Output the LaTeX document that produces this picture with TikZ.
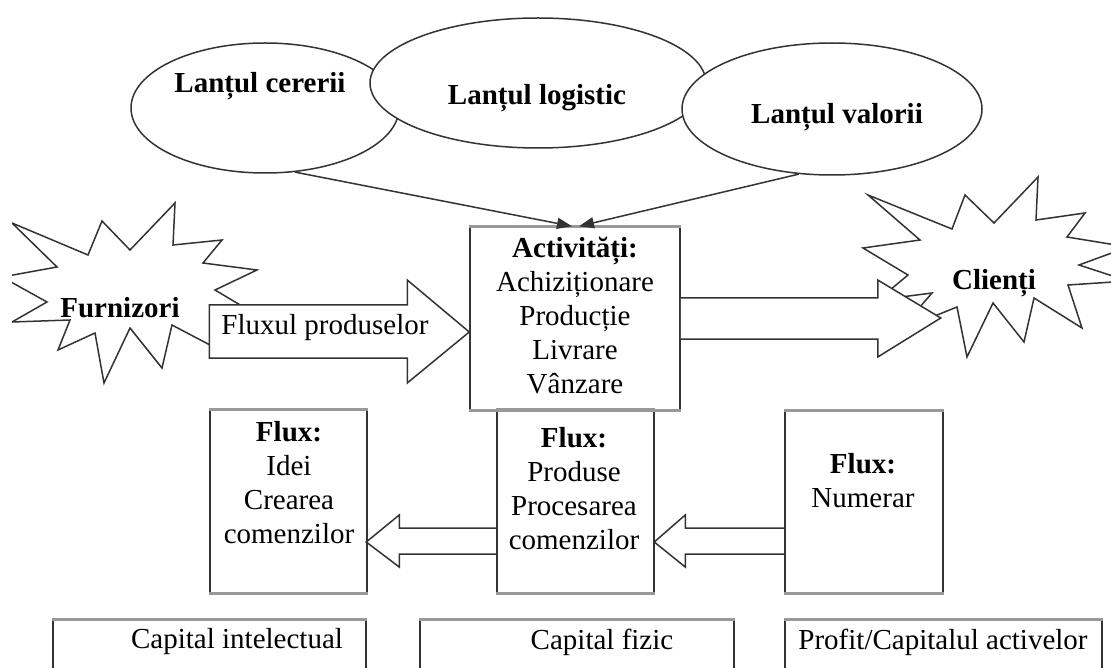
\documentclass[tikz,border=0pt]{standalone}
\usepackage{fontspec}
\setmainfont{Liberation Serif}
\usetikzlibrary{calc,arrows.meta,shapes.geometric}
\begin{document}
\begin{tikzpicture}[x=1pt,y=-1pt,
  ln/.style={draw=black!80,line width=1.5pt},
  ell/.style={ellipse,ln,fill=white,inner sep=0pt},
  box/.style={rectangle,ln,inner sep=0pt},
  hedge/.style={draw=black!40,line width=3pt},
  txt/.style={inner sep=0pt,font=\fontsize{29}{34}\selectfont,align=center},
  btxt/.style={inner sep=0pt,font=\fontsize{29}{34}\selectfont\bfseries,align=center},
  blk/.style={ln,line join=miter},
  tipline/.style={ln,-{Triangle[length=15pt,width=11pt]}}]
\clip (0,0) rectangle (1111,668);
\fill[white] (0,0) rectangle (1111,668);

% ellipses
\node[ell,minimum width=268pt,minimum height=130pt] (cerere) at (265,108) {};
\node[ell,minimum width=336pt,minimum height=130pt] (logistic) at (538,83) {};
\node[ell,minimum width=300pt,minimum height=132pt] (valoare) at (832,109) {};
\node[btxt] (t-cerere) at (260,86) {Lanțul cererii};
\node[btxt] (t-logistic) at (537,98) {Lanțul logistic};
\node[btxt] (t-valoare) at (837,117) {Lanțul valorii};

% boxes
\node[box,minimum width=210pt,minimum height=183pt] (act) at (575,318.5) {};
\node[box,minimum width=157pt,minimum height=183pt] (idei) at (288.5,501.5) {};
\node[box,minimum width=157pt,minimum height=183pt] (proc) at (575.5,501.5) {};
\node[box,minimum width=158pt,minimum height=182pt] (num) at (864,502) {};
\node[box,minimum width=313pt,minimum height=80pt] (cap1) at (209.5,660) {};
\node[box,minimum width=314pt,minimum height=80pt] (cap2) at (577,660) {};
\node[box,minimum width=317pt,minimum height=80pt] (cap3) at (943.5,660) {};
\foreach \b in {act,idei,proc,num}{
  \draw[hedge] (\b.north west) -- (\b.north east);
  \draw[hedge] (\b.south west) -- (\b.south east);
}
\foreach \b in {cap1,cap2,cap3}{
  \draw[hedge] (\b.north west) -- (\b.north east);
}

\node[txt] (t-act) at (575,316) {\textbf{Activități:}\\Achiziționare\\Producție\\Livrare\\Vânzare};
\node[txt] (t-idei) at (289,483) {\textbf{Flux:}\\Idei\\Crearea\\comenzilor};
\node[txt] (t-proc) at (574,489) {\textbf{Flux:}\\Produse\\Procesarea\\comenzilor};
\node[txt] (t-num) at (863,481) {\textbf{Flux:}\\Numerar};
\node[txt] (t-cap1) at (237,642) {Capital intelectual};
\node[txt] (t-cap2) at (602,642) {Capital fizic};
\node[txt] (t-cap3) at (943,642) {Profit/Capitalul activelor};

% connectors from ellipses
\draw[tipline] (cerere.-65) -- ($(act.north)+(-3,0)$);
\draw[tipline] (valoare.-117) -- ($(act.north)+(4,0)$);

% stars
\begin{scope}
\clip (12,0) rectangle (1111,668);
\draw[blk] (12,223) -- (88,255) -- (102,221) -- (130,250) -- (175,203) -- (173,245)
  -- (222,240) -- (203,263) -- (257,270) -- (215,290) -- (252,312) -- (252,338)
  -- (210,345) -- (172,325) -- (162,368) -- (130,328) -- (104,383) -- (95,333)
  -- (58,350) -- (70,320) -- (12,322) -- (47,302) -- (2,277) -- (57,267) -- cycle;
\draw[blk] (868,195) -- (952,229) -- (965,195) -- (994,223) -- (1038,177) -- (1036,220)
  -- (1085,213) -- (1067,237) -- (1128,247) -- (1079,265) -- (1128,281) -- (1068,285)
  -- (1082,328) -- (1034,298) -- (1024,342) -- (993,303) -- (967,357) -- (957,307)
  -- (900,330) -- (932,293) -- (878,300) -- (908,275) -- (863,248) -- (920,240) -- cycle;
\end{scope}

% block arrows
\draw[blk,fill=white] ($(act.west)+(0,13.5)$) -- ++(-62,-52) -- ++(0,25) -- ++(-198,0)
  -- ++(0,53) -- ++(198,0) -- ++(0,25) -- cycle;
\node[txt] (t-flux) at (325,328) {Fluxul produselor};
\node[btxt] (furn) at (120,308) {Furnizori};
\node[btxt] (client) at (994,283) {Clienți};

\draw[blk,fill=white] ($(act.east)+(0,-20.5)$) -- ++(197,0) -- ++(0,-18) -- ++(63,38) -- ++(-63,39)
  -- ++(0,-18) -- ++(-197,0);
\draw[blk] ($(proc.west)+(0,26.5)$) -- ++(-97,0) -- ++(0,-13) -- ++(-33,27) -- ++(33,25)
  -- ++(0,-13) -- ++(97,0);
\draw[blk] ($(num.west)+(0,26)$) -- ++(-99,0) -- ++(0,-13) -- ++(-31,27) -- ++(31,25)
  -- ++(0,-13) -- ++(99,0);
\end{tikzpicture}
\end{document}
